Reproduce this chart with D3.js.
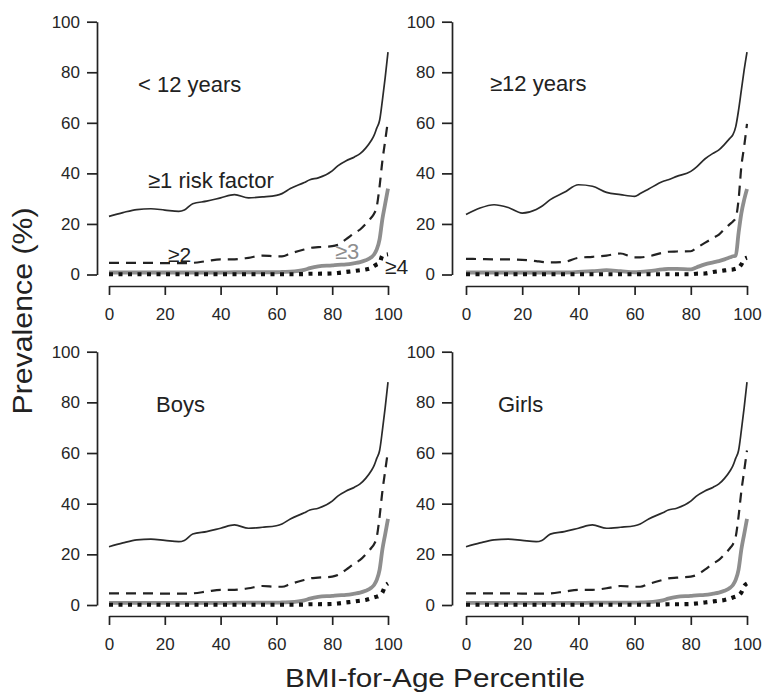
<!DOCTYPE html>
<html>
<head>
<meta charset="utf-8">
<script src="https://cdn.jsdelivr.net/npm/d3@7"></script>
<style>
  html, body { margin: 0; padding: 0; background: #fff; }
  svg { display: block; font-family: "Liberation Sans", Arial, Helvetica, sans-serif; }
</style>
</head>
<body>
<svg id="chart" width="763" height="694"></svg>
<script>
// ---------- DATA ----------
const percentiles = [0,5,10,15,20,25,27,30,35,40,45,50,55,60,62,65,70,72,75,80,82,85,88,90,92,94,95,96,97,98,99,100];

const panelTitles = ["< 12 years", "\u226512 years", "Boys", "Girls"];
const seriesNames = ["\u22651 risk factor", "\u22652", "\u22653", "\u22654"];
const xTicks = [0, 20, 40, 60, 80, 100];
const yTicks = [0, 20, 40, 60, 80, 100];

// < 12 years
const under12_ge1 = [23,24.5,25.7,26,25.5,25,25.5,28,29,30.3,31.6,30.3,30.7,31.3,32,34,36.4,37.5,38.2,41,43,45,46.5,47.8,50,53,55,58,61,69,78,88];
const under12_ge2 = [4.6,4.6,4.6,4.6,4.5,4.5,4.5,4.6,5.3,6,6,6.6,7.5,7.2,7.2,8.3,9.9,10.5,10.8,11.2,11.8,14,16.4,17.8,20,22.5,24,27,35,45,53,61];
const under12_ge3 = [0.8,0.8,0.8,0.8,0.8,0.8,0.8,0.8,0.8,0.8,0.9,0.9,0.9,0.9,1,1.1,1.8,2.5,3.2,3.6,3.8,4,4.5,4.9,5.6,6.8,7.9,10,14,22,28,34];
const under12_ge4 = [0.1,0.1,0.1,0.1,0.1,0.1,0.1,0.1,0.1,0.1,0.1,0.1,0.1,0.1,0.1,0.1,0.2,0.3,0.3,0.4,0.6,1,1.4,1.7,2,2.6,3.3,4,4.6,7.5,7.8,8];

// >= 12 years
const over12_ge1 = [23.7,26.3,27.6,26.5,24.3,25.7,27,29.6,32.5,35.5,34.9,32.5,31.6,30.9,32,33.8,36.8,37.5,38.8,40.8,42.5,45.7,48,49.3,51.5,54,55.3,58.5,65,73,81,88];
const over12_ge2 = [6.2,6.1,6,6,5.8,5.3,5,4.8,5,6.6,7,7.5,8.3,6.8,6.8,7.2,8.6,9,9.1,9.2,10.5,12.5,14.5,15.8,18,20,21,22.4,29.6,42.8,50.7,59.6];
const over12_ge3 = [0.8,0.8,0.8,0.8,0.8,0.8,0.8,0.8,0.8,1,1.3,1.7,1.3,0.9,1,1.3,2,2.2,2.2,2,2.8,4,4.8,5.3,6,6.8,7.2,7.5,16.4,24.3,29.6,33.8];
const over12_ge4 = [0.1,0.1,0.1,0.1,0.1,0.1,0.1,0.1,0.1,0.1,0.1,0.1,0.1,0.1,0.1,0.1,0.1,0.1,0.1,0.1,0.3,0.4,1,1.3,1.6,1.9,2,2.3,2.6,4,6,6.6];

// Boys
const boys_ge1 = [23,24.5,25.7,26,25.5,25,25.5,28,29,30.3,31.6,30.3,30.7,31.3,32,34,36.4,37.5,38.2,41,43,45,46.5,47.8,50,53,55,58,61,69,78,88];
const boys_ge2 = [4.6,4.6,4.6,4.6,4.5,4.5,4.5,4.6,5.3,6,6,6.6,7.5,7.2,7.2,8.3,9.9,10.5,10.8,11.2,11.8,14,16.4,17.8,20,22.5,24,27,35,45,53,61];
const boys_ge3 = [0.8,0.8,0.8,0.8,0.8,0.8,0.8,0.8,0.8,0.8,0.9,0.9,0.9,0.9,1,1.1,1.8,2.5,3.2,3.6,3.8,4,4.5,4.9,5.6,6.8,7.9,10,14,22,28,34];
const boys_ge4 = [0.1,0.1,0.1,0.1,0.1,0.1,0.1,0.1,0.1,0.1,0.1,0.1,0.1,0.1,0.1,0.1,0.2,0.3,0.3,0.4,0.6,1,1.4,1.7,2,2.6,3,3.3,3.8,5,7.5,8.5];

// Girls
const girls_ge1 = [23,24.5,25.7,26,25.5,25,25.5,28,29,30.3,31.6,30.3,30.7,31.3,32,34,36.4,37.5,38.2,41,43,45,46.5,47.8,50,53,55,58,61,69,78,88];
const girls_ge2 = [4.6,4.6,4.6,4.6,4.5,4.5,4.5,4.6,5.3,6,6,6.6,7.5,7.2,7.2,8.3,9.9,10.5,10.8,11.2,11.8,14,16.4,17.8,20,22.5,24,27,35,45,53,61];
const girls_ge3 = [0.8,0.8,0.8,0.8,0.8,0.8,0.8,0.8,0.8,0.8,0.9,0.9,0.9,0.9,1,1.1,1.8,2.5,3.2,3.6,3.8,4,4.5,4.9,5.6,6.8,7.9,10,14,22,28,34];
const girls_ge4 = [0.1,0.1,0.1,0.1,0.1,0.1,0.1,0.1,0.1,0.1,0.1,0.1,0.1,0.1,0.1,0.1,0.2,0.3,0.3,0.4,0.6,1,1.4,1.7,2,2.6,3,3.3,3.8,5,7.5,8.5];

const panelSeries = [
  [under12_ge1, under12_ge2, under12_ge3, under12_ge4],
  [over12_ge1, over12_ge2, over12_ge3, over12_ge4],
  [boys_ge1, boys_ge2, boys_ge3, boys_ge4],
  [girls_ge1, girls_ge2, girls_ge3, girls_ge4]
];

// ---------- LAYOUT / STYLE ----------
const panels = [
  { x0: 109, x1: 388, y0: 274.5, y1: 21.7, yAxisX: 97, xAxisY: 286 },
  { x0: 466, x1: 747, y0: 274.5, y1: 21.7, yAxisX: 452, xAxisY: 286 },
  { x0: 109, x1: 388, y0: 605,   y1: 351.7, yAxisX: 97, xAxisY: 616 },
  { x0: 466, x1: 747, y0: 605,   y1: 351.7, yAxisX: 452, xAxisY: 616 }
];
const titlePos = [
  { dx: 29, baseline: 91.5 },
  { dx: 24, baseline: 91 },
  { dx: 47, baseline: 412 },
  { dx: 32, baseline: 412 }
];
const seriesStyle = [
  { color: "#2a2a2a", width: 1.7, dash: null, cap: "butt" },
  { color: "#222", width: 2.2, dash: "10,7", cap: "butt" },
  { color: "#8e8e8e", width: 3.8, dash: null, cap: "butt" },
  { color: "#111", width: 4.2, dash: "4,5.5", cap: "butt" }
];

const svg = d3.select("#chart");

panels.forEach((p, i) => {
  const x = d3.scaleLinear().domain([0, 100]).range([p.x0, p.x1]);
  const y = d3.scaleLinear().domain([0, 100]).range([p.y0, p.y1]);
  const g = svg.append("g");

  const ya = g.append("g")
    .attr("transform", `translate(${p.yAxisX},0)`)
    .call(d3.axisLeft(y).tickValues(yTicks).tickSize(10).tickSizeOuter(0).tickPadding(7));
  const xa = g.append("g")
    .attr("transform", `translate(0,${p.xAxisY})`)
    .call(d3.axisBottom(x).tickValues(xTicks).tickSize(9).tickSizeOuter(0).tickPadding(13));
  [ya, xa].forEach(a => {
    a.select(".domain").attr("stroke", "#222").attr("stroke-width", 1.7);
    a.selectAll(".tick line").attr("stroke", "#222").attr("stroke-width", 1.7);
    a.selectAll(".tick text").attr("fill", "#262626")
      .style("font-size", "17px").style("font-family", "'Liberation Sans', Arial, sans-serif");
  });

  const line = d3.line().x((d, k) => x(percentiles[k])).y(d => y(d)).curve(d3.curveMonotoneX);
  const order = [2, 0, 1, 3];
  order.forEach(s => {
    const st = seriesStyle[s];
    g.append("path")
      .datum(panelSeries[i][s])
      .attr("d", line)
      .attr("fill", "none")
      .attr("stroke", st.color)
      .attr("stroke-width", st.width)
      .attr("stroke-dasharray", st.dash)
      .attr("stroke-linecap", st.cap)
      .attr("stroke-linejoin", "round");
  });

  g.append("text")
    .attr("x", p.x0 + titlePos[i].dx)
    .attr("y", titlePos[i].baseline)
    .attr("fill", "#222")
    .style("font-size", "22px")
    .text(panelTitles[i]);

  if (i === 0) {
    g.append("text").attr("x", 148).attr("y", 188).attr("fill", "#222")
      .style("font-size", "22px").text(seriesNames[0]);
    g.append("text").attr("x", 168).attr("y", 262).attr("fill", "#222")
      .style("font-size", "21px").text(seriesNames[1]);
    g.append("text").attr("x", 335).attr("y", 259).attr("fill", "#8e8e8e")
      .style("font-size", "22px").text(seriesNames[2]);
    g.append("text").attr("x", 385).attr("y", 274).attr("fill", "#222")
      .style("font-size", "21px").text(seriesNames[3]);
  }
});

svg.append("text")
  .attr("transform", "translate(32,311) rotate(-90)")
  .attr("text-anchor", "middle")
  .attr("fill", "#222")
  .attr("textLength", 207)
  .attr("lengthAdjust", "spacingAndGlyphs")
  .style("font-size", "28px")
  .text("Prevalence (%)");

svg.append("text")
  .attr("x", 435)
  .attr("y", 687)
  .attr("text-anchor", "middle")
  .attr("fill", "#222")
  .attr("textLength", 300)
  .attr("lengthAdjust", "spacingAndGlyphs")
  .style("font-size", "26px")
  .text("BMI-for-Age Percentile");
</script>
</body>
</html>
